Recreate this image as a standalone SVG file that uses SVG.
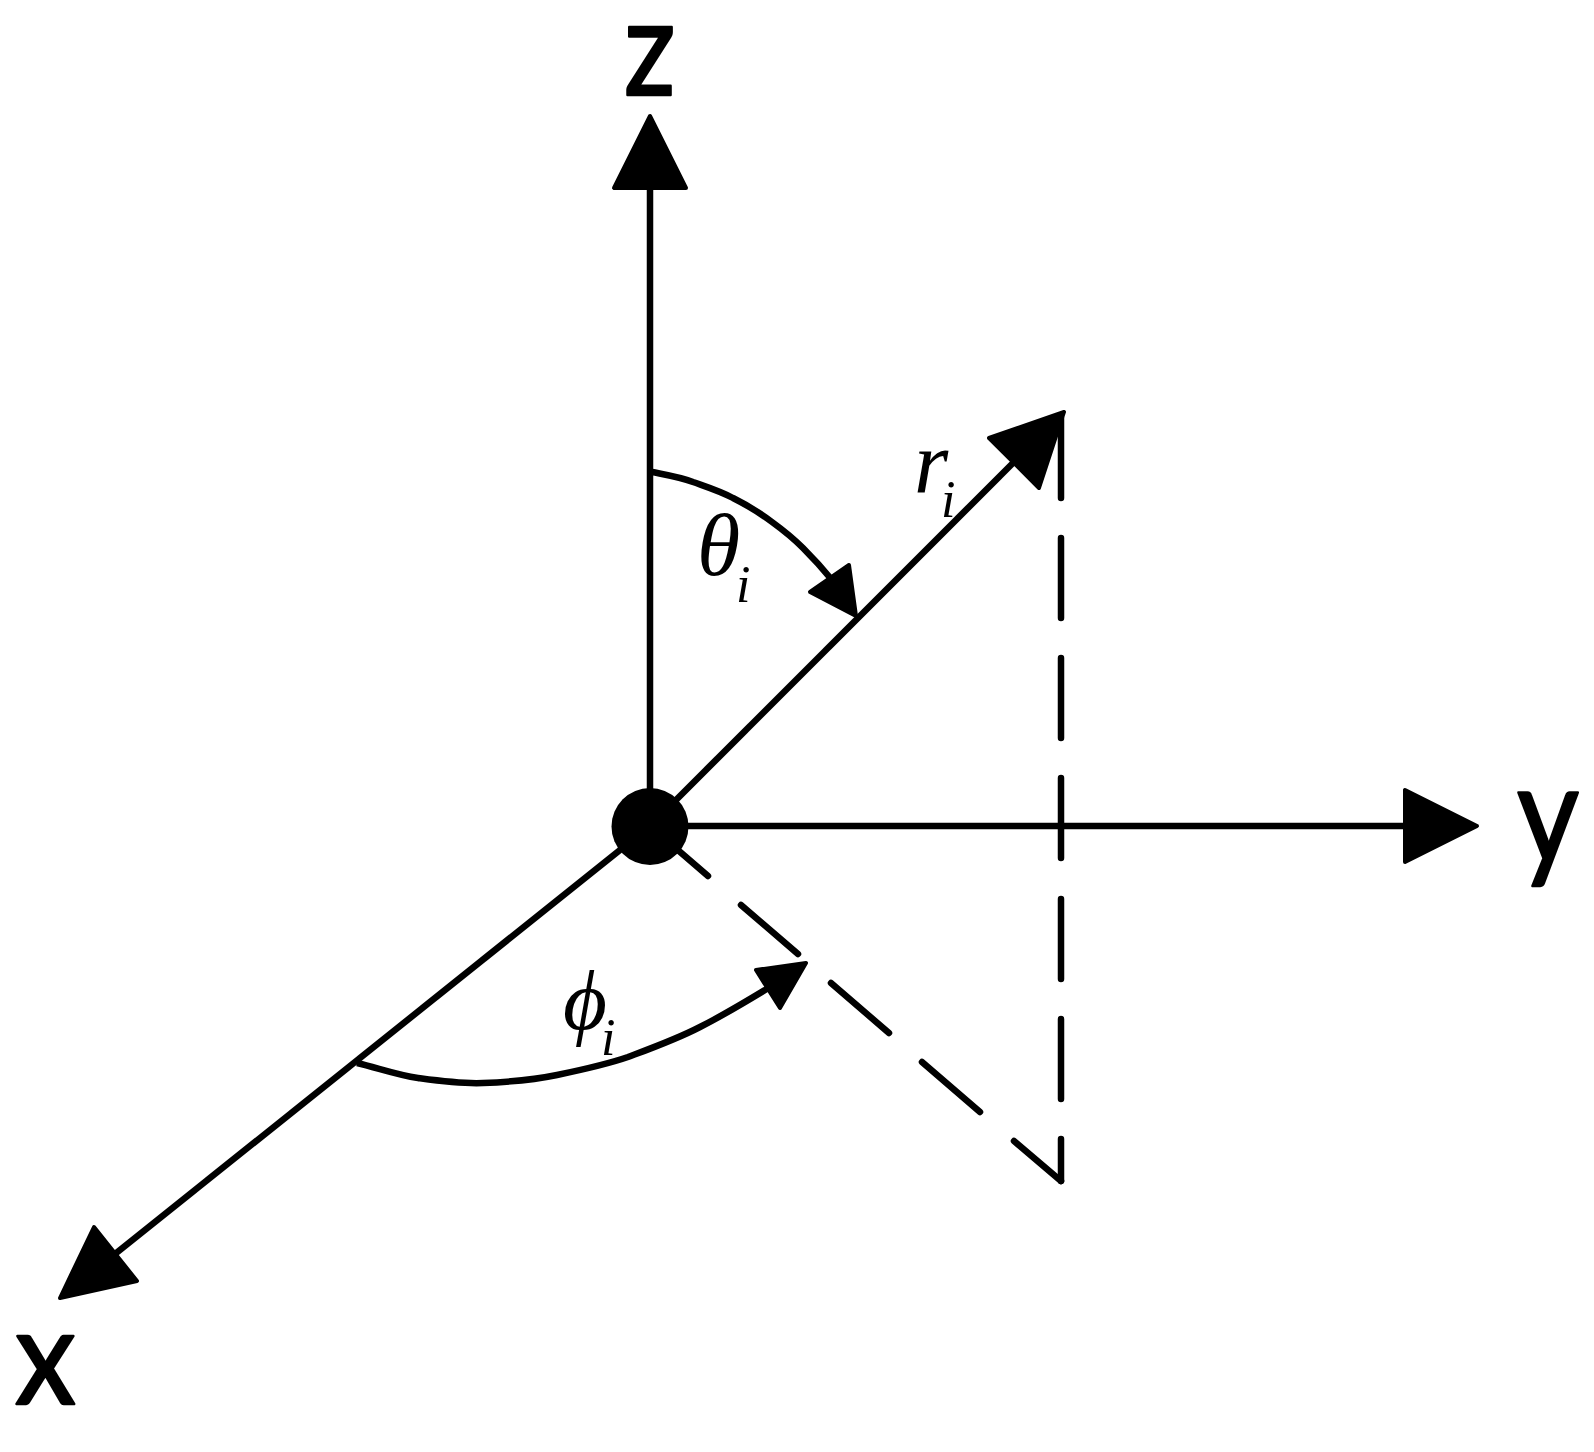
<svg xmlns="http://www.w3.org/2000/svg" width="1594" height="1452" viewBox="0 0 1594 1452">
<style>
.l{fill:none;stroke:#000;stroke-width:6.5}
.d{fill:none;stroke:#000;stroke-width:6.5;stroke-linecap:round}
.h{fill:#000;stroke:#000;stroke-width:4;stroke-linejoin:round}
.ax{font-family:"Lato",sans-serif;font-size:134px;fill:#000;stroke:#000;stroke-width:2.5;stroke-linejoin:round}
.g{font-family:"Liberation Serif",serif;font-style:italic;font-size:88px;fill:#000}
.s{font-family:"Liberation Serif",serif;font-style:italic;font-size:52px;fill:#000}
</style>
<rect width="1594" height="1452" fill="#fff"/>
<g id="connectors">
<path class="l" d="M650 826V180"/>
<path class="l" d="M650 826H1410"/>
<path class="l" d="M650 826L1020 456"/>
<path class="l" d="M650 826L105 1262"/>
<path class="d" d="M1061 418V498M1061 538V618M1061 658V738M1061 778V858M1061 899V979M1061 1019V1099M1061 1139V1181"/>
<path class="d" d="M650 826L708 876M741 905L798 954M831 983L889 1033M922 1062L980 1112M1014 1141L1061 1181"/>
<path class="l" d="M652 472C667 475 680 477 693 482C707 487 720 491 733 498C747 505 760 513 772 522C783 530 793 538 803 548C813 558 823 569 832 580"/>
<path class="l" d="M357 1063C378 1068 397 1075 418 1078C440 1081 461 1084 483 1083C508 1082 533 1080 557 1075C581 1070 605 1065 628 1057C652 1048 677 1039 700 1027C724 1015 747 1001 770 987"/>
<polygon class="h" points="650,116 614,188 686,188"/>
<polygon class="h" points="1477,826 1405,790 1405,862"/>
<polygon class="h" points="60,1298 94,1227 137,1281"/>
<polygon class="h" points="1064,412 989,438 1039,488"/>
<polygon class="h" points="856,616 849,565 810,592"/>
<polygon class="h" points="806,963 756,970 780,1008"/>
</g>
<g id="origin"><circle cx="650" cy="826.5" r="38.5" fill="#000"/></g>
<g id="label-z"><text class="ax" transform="translate(624 95) scale(.85 1)">z</text></g>
<g id="label-y"><text class="ax" style="font-size:138px" transform="translate(1517 862) scale(.87 1)">y</text></g>
<g id="label-x"><text class="ax" transform="translate(15 1404) scale(.91 1)">x</text></g>
<g id="label-r"><text class="g" x="914" y="492">r</text><text class="s" x="941" y="517">i</text></g>
<g id="label-theta"><text class="g" x="697" y="575">θ</text><text class="s" x="736" y="602">i</text></g>
<g id="label-phi"><text class="g" x="563" y="1029" style="font-size:85px">ϕ</text><text class="s" x="601" y="1055">i</text></g>
</svg>
